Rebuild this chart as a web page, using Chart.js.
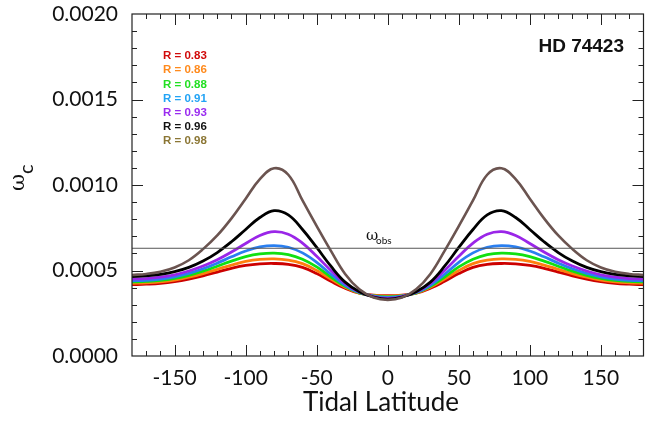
<!DOCTYPE html>
<html>
<head>
<meta charset="utf-8">
<script src="https://cdn.jsdelivr.net/npm/chart.js@4"></script>
<style>
html, body { margin: 0; padding: 0; background: #fff; }
</style>
</head>
<body>
<canvas id="chart" width="660" height="422"></canvas>
<script>
// Data Setup
const latitudes = [-180, -170, -160, -150, -140, -130, -120, -110, -100, -90, -80, -70, -60, -50, -40, -30, -20, -10, 0,
  10, 20, 30, 40, 50, 60, 70, 80, 90, 100, 110, 120, 130, 140, 150, 160, 170, 180];
const seriesLabels = ['R = 0.83', 'R = 0.86', 'R = 0.88', 'R = 0.91', 'R = 0.93', 'R = 0.96', 'R = 0.98'];
const omegaObs = 0.00063;

const r083 = [0.000417, 0.000420, 0.000425, 0.000435, 0.000450, 0.000469, 0.000491, 0.000513, 0.000530, 0.000539, 0.000541, 0.000536, 0.000518, 0.000482, 0.000437, 0.000396, 0.000367, 0.000356, 0.000353,
  0.000356, 0.000367, 0.000396, 0.000437, 0.000482, 0.000518, 0.000536, 0.000541, 0.000539, 0.000530, 0.000513, 0.000491, 0.000469, 0.000450, 0.000435, 0.000425, 0.000420, 0.000417];
const r086 = [0.000425, 0.000428, 0.000433, 0.000444, 0.000461, 0.000482, 0.000507, 0.000532, 0.000553, 0.000565, 0.000568, 0.000561, 0.000540, 0.000500, 0.000450, 0.000402, 0.000368, 0.000354, 0.000350,
  0.000354, 0.000368, 0.000402, 0.000450, 0.000500, 0.000540, 0.000561, 0.000568, 0.000565, 0.000553, 0.000532, 0.000507, 0.000482, 0.000461, 0.000444, 0.000433, 0.000428, 0.000425];
const r088 = [0.000433, 0.000436, 0.000442, 0.000454, 0.000472, 0.000496, 0.000525, 0.000555, 0.000581, 0.000597, 0.000602, 0.000593, 0.000566, 0.000521, 0.000462, 0.000407, 0.000369, 0.000352, 0.000346,
  0.000352, 0.000369, 0.000407, 0.000462, 0.000521, 0.000566, 0.000593, 0.000602, 0.000597, 0.000581, 0.000555, 0.000525, 0.000496, 0.000472, 0.000454, 0.000442, 0.000436, 0.000433];
const r091 = [0.000440, 0.000443, 0.000450, 0.000463, 0.000483, 0.000510, 0.000543, 0.000580, 0.000614, 0.000638, 0.000646, 0.000636, 0.000603, 0.000548, 0.000478, 0.000414, 0.000371, 0.000350, 0.000342,
  0.000350, 0.000371, 0.000414, 0.000478, 0.000548, 0.000603, 0.000636, 0.000646, 0.000638, 0.000614, 0.000580, 0.000543, 0.000510, 0.000483, 0.000463, 0.000450, 0.000443, 0.000440];
const r093 = [0.000450, 0.000453, 0.000461, 0.000475, 0.000497, 0.000526, 0.000563, 0.000608, 0.000658, 0.000705, 0.000727, 0.000712, 0.000660, 0.000583, 0.000500, 0.000425, 0.000374, 0.000348, 0.000337,
  0.000348, 0.000374, 0.000425, 0.000500, 0.000583, 0.000660, 0.000712, 0.000727, 0.000705, 0.000658, 0.000608, 0.000563, 0.000526, 0.000497, 0.000475, 0.000461, 0.000453, 0.000450];
const r096 = [0.000464, 0.000468, 0.000477, 0.000493, 0.000518, 0.000555, 0.000605, 0.000668, 0.000740, 0.000810, 0.000850, 0.000825, 0.000740, 0.000635, 0.000525, 0.000432, 0.000376, 0.000345, 0.000333,
  0.000345, 0.000376, 0.000432, 0.000525, 0.000635, 0.000740, 0.000825, 0.000850, 0.000810, 0.000740, 0.000668, 0.000605, 0.000555, 0.000518, 0.000493, 0.000477, 0.000468, 0.000464];
const r098 = [0.000474, 0.000480, 0.000493, 0.000518, 0.000560, 0.000625, 0.000705, 0.000805, 0.000920, 0.001035, 0.001098, 0.001060, 0.000910, 0.000760, 0.000615, 0.000480, 0.000390, 0.000342, 0.000328,
  0.000342, 0.000390, 0.000480, 0.000615, 0.000760, 0.000910, 0.001060, 0.001098, 0.001035, 0.000920, 0.000805, 0.000705, 0.000625, 0.000560, 0.000518, 0.000493, 0.000480, 0.000474];

const seriesValues = [r083, r086, r088, r091, r093, r096, r098];
const lineColors = ['#cc0000', '#ff7f0e', '#11e011', '#2a7ff0', '#9a26e8', '#000000', '#6b5450'];
const labelColors = ['#d10a0a', '#ff8a1c', '#22e022', '#21a3f5', '#9a2cf0', '#111111', '#8b7634'];

const FONT = 'Lato, "Open Sans", sans-serif';

// Frame, inside ticks and text annotations
const decor = {
  id: 'decor',
  afterDraw(chart) {
    const c = chart.ctx;
    const a = chart.chartArea;
    const xs = chart.scales.x, ys = chart.scales.y;
    c.save();
    c.fillStyle = '#222';

    // ticks pointing inward on all four sides
    for (let v = -170; v <= 170; v += 10) {
      const px = Math.round(xs.getPixelForValue(v));
      const len = v % 50 === 0 ? 11 : 5;
      c.fillRect(px, a.bottom - len, 1, len);
      c.fillRect(px, a.top, 1, len);
    }
    for (let i = 1; i < 20; i++) {
      const py = Math.round(ys.getPixelForValue(i * 0.0001));
      const len = i % 5 === 0 ? 11 : 5;
      c.fillRect(a.left, py, len, 1);
      c.fillRect(a.right - len, py, len, 1);
    }
    c.strokeStyle = '#222';
    c.lineWidth = 1.2;
    c.strokeRect(a.left, a.top, a.right - a.left, a.bottom - a.top);

    // legend text
    c.font = 'bold 11.5px "Liberation Sans", Arial, sans-serif';
    c.textAlign = 'left';
    c.textBaseline = 'middle';
    seriesLabels.forEach((t, i) => {
      c.fillStyle = labelColors[i];
      c.fillText(t, 163, 56 + i * 14.2);
    });

    // star name
    c.fillStyle = '#111';
    c.font = 'bold 19px "Liberation Sans", Arial, sans-serif';
    c.textAlign = 'right';
    c.fillText('HD 74423', 624, 47);

    // omega obs label
    c.textAlign = 'left';
    c.textBaseline = 'alphabetic';
    c.font = '15px "DejaVu Serif", serif';
    c.fillText('\u03c9', 366, 240);
    c.font = '10px ' + FONT;
    c.fillText('obs', 376, 244);

    // x title
    c.textAlign = 'center';
    c.font = '26px ' + FONT;
    c.fillText('Tidal Latitude', 381, 411);

    // y title
    c.translate(24, 191);
    c.rotate(-Math.PI / 2);
    c.textAlign = 'left';
    c.font = '21px "DejaVu Serif", serif';
    c.fillText('\u03c9', 0, 0);
    c.font = '20px ' + FONT;
    c.fillText('c', 17, 9);
    c.restore();
  }
};

const datasets = seriesValues.map((vals, i) => ({
  label: seriesLabels[i],
  data: latitudes.map((x, j) => ({ x: x, y: vals[j] })),
  borderColor: lineColors[i],
  borderWidth: i === 6 ? 2.6 : 2.8,
  pointRadius: 0,
  tension: 0.4,
  order: 10 - i
}));
datasets.push({
  label: 'obs',
  data: [{ x: -180, y: omegaObs }, { x: 180, y: omegaObs }],
  borderColor: '#555',
  borderWidth: 1,
  pointRadius: 0,
  order: 0
});

const ctx = document.getElementById('chart').getContext('2d');
const chart = new Chart(ctx, {
  type: 'line',
  data: { datasets: datasets },
  options: {
    responsive: false,
    animation: false,
    devicePixelRatio: 1,
    layout: { padding: { left: 0, right: 16.5, top: 14, bottom: 0 } },
    plugins: { legend: { display: false }, tooltip: { enabled: false } },
    scales: {
      x: {
        type: 'linear',
        min: -180,
        max: 180,
        grid: { display: false, drawTicks: false },
        border: { display: false },
        ticks: {
          stepSize: 50,
          includeBounds: false,
          maxRotation: 0,
          padding: 10,
          color: '#111',
          font: { family: FONT, size: 21 }
        },
        afterFit: s => { s.height = 66; }
      },
      y: {
        min: 0,
        max: 0.002,
        grid: { display: false, drawTicks: false },
        border: { display: false },
        ticks: {
          stepSize: 0.0005,
          padding: 14,
          color: '#111',
          font: { family: FONT, size: 21 },
          callback: v => v.toFixed(4)
        },
        afterFit: s => {
          s.width = 132;
          s.paddingTop = 0;
          s.paddingBottom = 0;
        }
      }
    }
  },
  plugins: [decor]
});
</script>
</body>
</html>
